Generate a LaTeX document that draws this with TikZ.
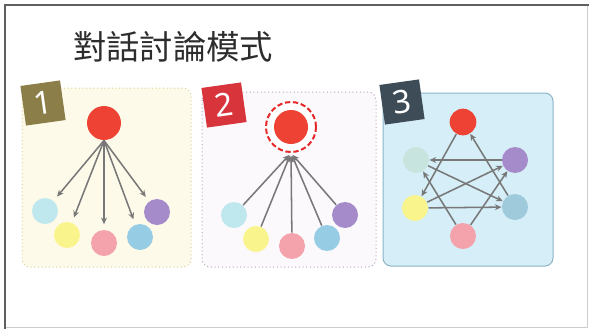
\documentclass[tikz,border=0pt]{standalone}
\usepackage{fontspec}
\newfontfamily\cjk{Noto Sans CJK TC}
\newfontfamily\badgefont{Noto Sans}
\usetikzlibrary{arrows.meta}

\tikzset{every picture/.style={line width=0.75pt}}
\tikzset{
	hub/.style={circle, inner sep=0pt, minimum size=25.5pt, fill={rgb, 255:red, 238; green, 66; blue, 52 }},
	member/.style={circle, inner sep=0pt, minimum size=19.5pt},
	talk/.style={draw={rgb, 255:red, 120; green, 120; blue, 120 }, line width=1.15pt, -{Stealth[length=5pt,width=4.5pt]}},
	badge/.style={rectangle, inner sep=0pt, minimum size=30pt, rotate=8, text=white, font=\badgefont\fontsize{24}{24}\selectfont},
	aqua/.style={fill={rgb, 255:red, 190; green, 232; blue, 238 }},
	lemon/.style={fill={rgb, 255:red, 250; green, 244; blue, 140 }},
	rose/.style={fill={rgb, 255:red, 244; green, 163; blue, 172 }},
	sky/.style={fill={rgb, 255:red, 150; green, 204; blue, 228 }},
	grape/.style={fill={rgb, 255:red, 166; green, 139; blue, 203 }}
}

\begin{document}
\begin{tikzpicture}[x=0.75pt,y=0.75pt,yscale=-1,xscale=1]
	\useasboundingbox (0,0) rectangle (589,329);

	%Frame
	\draw [draw={rgb, 255:red, 205; green, 205; blue, 205 }] (5,5) rectangle (587,327) ;
	\draw [draw={rgb, 255:red, 95; green, 95; blue, 95 }, line width=1.5pt] (589,5) -- (5,5) -- (5,329) ;

	% Text Node
	\node (title) at (173,47) {\cjk\fontsize{25}{25}\selectfont\color[RGB]{45,45,45}對話討論模式};

	%Panel 1
	\draw [fill={rgb, 255:red, 254; green, 250; blue, 234 }, draw={rgb, 255:red, 214; green, 206; blue, 150 }, dotted, rounded corners=6pt] (22,88) rectangle (191,267) ;
	%Panel 2
	\draw [fill={rgb, 255:red, 252; green, 249; blue, 252 }, draw={rgb, 255:red, 180; green, 165; blue, 190 }, dotted, rounded corners=6pt] (202,92) rectangle (376,267) ;
	%Panel 3
	\draw [fill={rgb, 255:red, 213; green, 238; blue, 247 }, draw={rgb, 255:red, 140; green, 180; blue, 198 }, rounded corners=6pt] (383,93) rectangle (553,266) ;

	% Badges
	\node [badge, fill={rgb, 255:red, 140; green, 126; blue, 72 }] (b1) at (43,103) {1};
	\node [badge, fill={rgb, 255:red, 215; green, 52; blue, 60 }] (b2) at (224,105) {2};
	\node [badge, fill={rgb, 255:red, 62; green, 76; blue, 88 }] (b3) at (402,102) {3};

	%Mode 1: teacher to each
	\node [hub] (r1) at (104,123) {};
	\node [member, aqua] (c1) at (45,211) {};
	\node [member, lemon] (y1) at (67,235) {};
	\node [member, rose] (p1) at (104,243) {};
	\node [member, sky] (s1) at (140,237) {};
	\node [member, grape] (g1) at (157,212) {};
	\foreach \m in {c1,y1,p1,s1,g1}
		\draw [talk, shorten >=4pt] (r1.south) -- (\m) ;

	%Mode 2: each to teacher
	\node [circle, inner sep=0pt, minimum size=37.5pt, draw={rgb, 255:red, 230; green, 40; blue, 40 }, line width=1.5pt, dash pattern=on 4pt off 2pt, fill=white] (ring) at (291,127) {};
	\node [hub] (r2) at (291,127) {};
	\node [member, aqua] (c2) at (234,215) {};
	\node [member, lemon] (y2) at (256,239) {};
	\node [member, rose] (p2) at (292,246) {};
	\node [member, sky] (s2) at (327,238) {};
	\node [member, grape] (g2) at (345,215) {};
	\foreach \m in {c2,y2,p2,s2,g2}
		\draw [talk, shorten >=2pt] (\m) -- (ring.south) ;

	%Mode 3: among members
	\node [hub, minimum size=20pt] (r3) at (463,122) {};
	\node [member, fill={rgb, 255:red, 200; green, 228; blue, 222 }] (c3) at (416,160) {};
	\node [member, grape] (g3) at (515,160) {};
	\node [member, lemon] (y3) at (415,208) {};
	\node [member, fill={rgb, 255:red, 158; green, 202; blue, 219 }] (s3) at (515,207) {};
	\node [member, rose] (p3) at (463,236) {};
	\draw [talk] (g3) -- (c3) ;
	\draw [talk] (s3) -- (r3) ;
	\draw [talk] (r3) -- (y3) ;
	\draw [talk] (c3) -- (s3) ;
	\draw [talk] (y3) -- (g3) ;
	\draw [talk] (y3) -- (s3) ;
	\draw [talk] (p3) -- (g3) ;
	\draw [talk] (p3) -- (c3) ;

\end{tikzpicture}
\end{document}
